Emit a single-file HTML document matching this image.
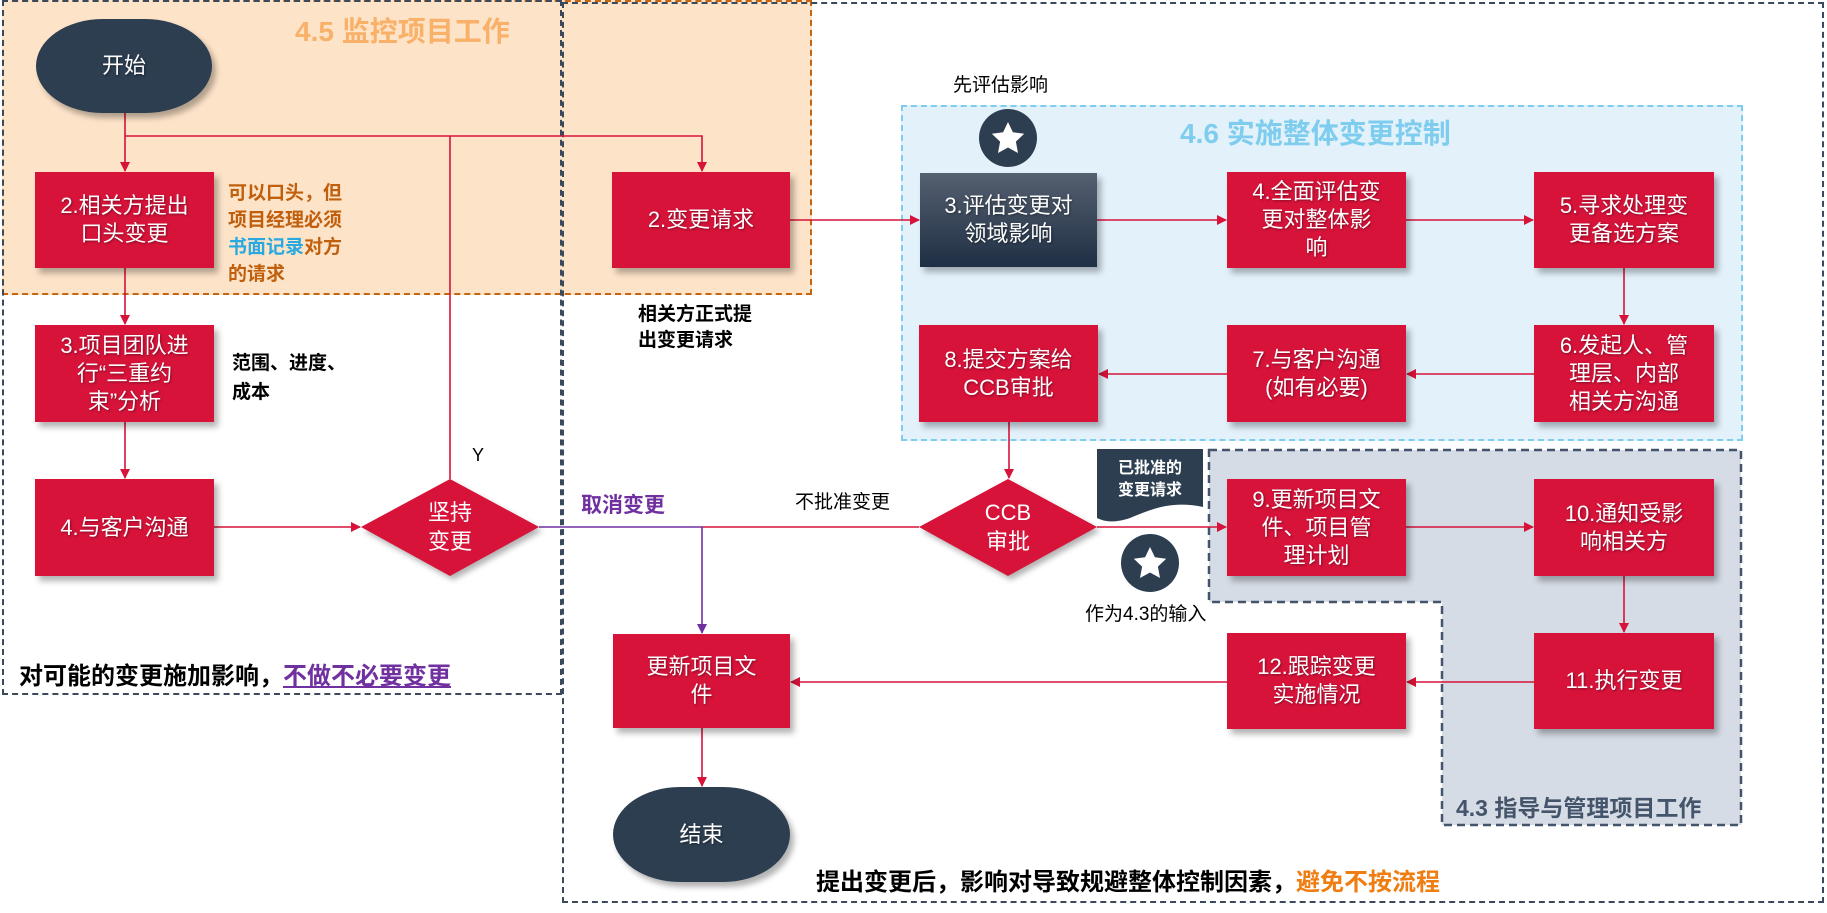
<!DOCTYPE html>
<html><head><meta charset="utf-8"><style>
*{margin:0;padding:0;box-sizing:border-box}
body{width:1827px;height:913px;background:#fff;position:relative;overflow:hidden;font-family:"Liberation Sans","Noto Sans CJK SC",sans-serif}
.a{position:absolute}
.box{position:absolute;background:#d7133a;color:#fff;font-size:22px;line-height:28px;display:flex;align-items:center;justify-content:center;text-align:center;box-shadow:4px 5px 6px rgba(0,0,0,.3);text-shadow:1px 1px 2px rgba(0,0,0,.4);white-space:nowrap}
.t{position:absolute;white-space:nowrap}
</style></head><body>
<div class="a" style="left:2px;top:0;width:810px;height:295px;background:#fde3c8;border:2px dashed #c5650f"></div>
<div class="a" style="left:2px;top:0;width:560px;height:695px;border:2px dashed #3a4a5c"></div>
<div class="a" style="left:562px;top:2px;width:1262px;height:901px;border:2px dashed #3a4a5c"></div>
<div class="a" style="left:901px;top:105px;width:842px;height:336px;background:#e3f1fb;border:2px dashed #7fcdee"></div>
<svg class="a" style="left:0;top:0" width="1827" height="913">
<path d="M1209 450 H1741 V825 H1442 V602 H1209 Z" fill="#d5dce5" stroke="#44546a" stroke-width="2.5" stroke-dasharray="8,5"/>
</svg>
<div class="t" style="left:295px;top:10px;font-size:28px;font-weight:bold;color:#f9b068">4.5 监控项目工作</div>
<div class="t" style="left:1180px;top:112px;font-size:28px;font-weight:bold;color:#7fcdee">4.6 实施整体变更控制</div>
<div class="t" style="left:1456px;top:789px;font-size:23px;font-weight:bold;color:#44546a">4.3 指导与管理项目工作</div>

<svg class="a" style="left:0;top:0" width="1827" height="913">
<defs>
<marker id="r" markerWidth="10" markerHeight="10" refX="9" refY="5" orient="auto" markerUnits="userSpaceOnUse"><path d="M0 0 L10 5 L0 10Z" fill="#d7133a"/></marker>
<marker id="p" markerWidth="10" markerHeight="10" refX="9" refY="5" orient="auto" markerUnits="userSpaceOnUse"><path d="M0 0 L10 5 L0 10Z" fill="#7030a0"/></marker>
</defs>
<g stroke="#d7133a" stroke-width="1.6" fill="none">
<path d="M125 113 V171" marker-end="url(#r)"/>
<path d="M125 136 H702 V171" marker-end="url(#r)"/>
<path d="M450 136 V479"/>
<path d="M125 268 V324" marker-end="url(#r)"/>
<path d="M125 422 V478" marker-end="url(#r)"/>
<path d="M214 527 H360" marker-end="url(#r)"/>
<path d="M702 527 H919"/>
<path d="M790 220 H919" marker-end="url(#r)"/>
<path d="M1097 220 H1226" marker-end="url(#r)"/>
<path d="M1406 220 H1533" marker-end="url(#r)"/>
<path d="M1624 268 V324" marker-end="url(#r)"/>
<path d="M1534 374 H1407" marker-end="url(#r)"/>
<path d="M1227 374 H1099" marker-end="url(#r)"/>
<path d="M1009 422 V478" marker-end="url(#r)"/>
<path d="M1097 527 H1226" marker-end="url(#r)"/>
<path d="M1406 527 H1533" marker-end="url(#r)"/>
<path d="M1624 576 V632" marker-end="url(#r)"/>
<path d="M1534 682 H1407" marker-end="url(#r)"/>
<path d="M1227 682 H791" marker-end="url(#r)"/>
<path d="M702 728 V786" marker-end="url(#r)"/>
</g>
<g stroke="#7030a0" stroke-width="1.6" fill="none">
<path d="M539 527 H702 V633" marker-end="url(#p)"/>
</g>
<path d="M450 479 L539 527 L450 576 L361 527Z" fill="#d7133a" style="filter:drop-shadow(3px 4px 3px rgba(0,0,0,.3))"/>
<path d="M1008 479 L1097 527 L1008 576 L919 527Z" fill="#d7133a" style="filter:drop-shadow(3px 4px 3px rgba(0,0,0,.3))"/>
<path d="M1097 449 H1203 V507 C1170 500 1150 510 1130 518 C1115 523 1105 522 1097 518 Z" fill="#2c3e50"/>
<circle cx="1008" cy="138" r="29" fill="#2c3e50"/>
<circle cx="1150" cy="563" r="29" fill="#2c3e50"/>
<path transform="translate(1008 139)" d="M0 -17 L4.9 -6.7 L16.2 -5.3 L7.9 2.6 L10 14 L0 8.5 L-10 14 L-7.9 2.6 L-16.2 -5.3 L-4.9 -6.7Z" fill="#fff"/>
<path transform="translate(1150 564)" d="M0 -17 L4.9 -6.7 L16.2 -5.3 L7.9 2.6 L10 14 L0 8.5 L-10 14 L-7.9 2.6 L-16.2 -5.3 L-4.9 -6.7Z" fill="#fff"/>
</svg>

<div class="box" style="left:36px;top:19px;width:176px;height:94px;background:#2c3e50;border-radius:38%/50%">开始</div>
<div class="box" style="left:613px;top:787px;width:177px;height:95px;background:#2c3e50;border-radius:38%/50%">结束</div>

<div class="box" style="left:35px;top:172px;width:179px;height:96px">2.相关方提出<br>口头变更</div>
<div class="box" style="left:612px;top:172px;width:178px;height:96px">2.变更请求</div>
<div class="box" style="left:35px;top:325px;width:179px;height:97px">3.项目团队进<br>行“三重约<br>束”分析</div>
<div class="box" style="left:35px;top:479px;width:179px;height:97px">4.与客户沟通</div>
<div class="box" style="left:613px;top:634px;width:177px;height:94px">更新项目文<br>件</div>

<div class="box" style="left:920px;top:173px;width:177px;height:94px;background:linear-gradient(#556070,#1f2f44)">3.评估变更对<br>领域影响</div>
<div class="box" style="left:1227px;top:172px;width:179px;height:96px">4.全面评估变<br>更对整体影<br>响</div>
<div class="box" style="left:1534px;top:172px;width:180px;height:96px">5.寻求处理变<br>更备选方案</div>
<div class="box" style="left:1534px;top:325px;width:180px;height:97px">6.发起人、管<br>理层、内部<br>相关方沟通</div>
<div class="box" style="left:1227px;top:325px;width:179px;height:97px">7.与客户沟通<br>(如有必要)</div>
<div class="box" style="left:919px;top:325px;width:179px;height:97px">8.提交方案给<br>CCB审批</div>
<div class="box" style="left:1227px;top:479px;width:179px;height:97px">9.更新项目文<br>件、项目管<br>理计划</div>
<div class="box" style="left:1534px;top:479px;width:180px;height:97px">10.通知受影<br>响相关方</div>
<div class="box" style="left:1534px;top:633px;width:180px;height:96px">11.执行变更</div>
<div class="box" style="left:1227px;top:633px;width:179px;height:96px">12.跟踪变更<br>实施情况</div>

<div class="t" style="left:410px;top:498px;width:80px;text-align:center;color:#fff;font-size:22px;line-height:29px">坚持<br>变更</div>
<div class="t" style="left:968px;top:498px;width:80px;text-align:center;color:#fff;font-size:22px;line-height:29px">CCB<br>审批</div>
<div class="t" style="left:1097px;top:458px;width:106px;text-align:center;color:#fff;font-size:16px;font-weight:bold;line-height:22px">已批准的<br>变更请求</div>

<div class="t" style="left:228px;top:180px;font-size:19px;font-weight:bold;line-height:27px;color:#c0600e">可以口头，但<br>项目经理必须<br><span style="color:#29a9e0">书面记录</span>对方<br>的请求</div>
<div class="t" style="left:232px;top:349px;font-size:19px;font-weight:bold;line-height:29px;color:#000">范围、进度、<br>成本</div>
<div class="t" style="left:638px;top:302px;font-size:19px;font-weight:bold;line-height:26px;color:#000">相关方正式提<br>出变更请求</div>
<div class="t" style="left:953px;top:70px;font-size:19px;color:#000">先评估影响</div>
<div class="t" style="left:472px;top:445px;font-size:18px;color:#000">Y</div>
<div class="t" style="left:581px;top:489px;font-size:21px;font-weight:bold;color:#7030a0">取消变更</div>
<div class="t" style="left:795px;top:487px;font-size:19px;color:#000">不批准变更</div>
<div class="t" style="left:1085px;top:599px;font-size:19px;color:#000">作为4.3的输入</div>
<div class="t" style="left:19px;top:656px;font-size:24px;font-weight:bold;color:#000">对可能的变更施加影响，<span style="color:#7030a0;text-decoration:underline">不做不必要变更</span></div>
<div class="t" style="left:816px;top:862px;font-size:24px;font-weight:bold;color:#000">提出变更后，影响对导致规避整体控制因素，<span style="color:#f07d12">避免不按流程</span></div>
</body></html>
